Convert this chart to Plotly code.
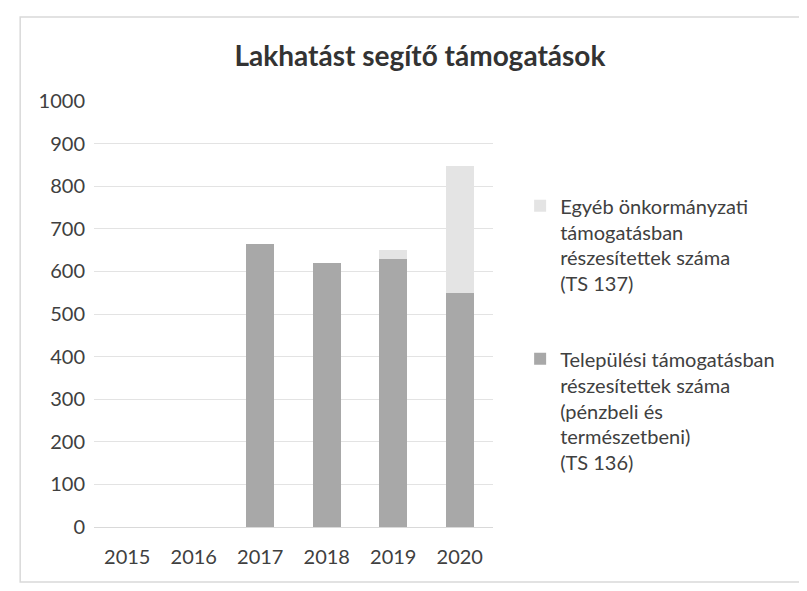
"""Lakhatást segítő támogatások - stacked bar chart."""

import plotly.graph_objects as go

# Data
YEARS = ["2015", "2016", "2017", "2018", "2019", "2020"]
TS136 = [None, None, 665, 620, 628, 550]   # Települési támogatás
TS137 = [None, None, None, None, 22, 298]  # Egyéb önkormányzati támogatás
Y_TICKS = [0, 100, 200, 300, 400, 500, 600, 700, 800, 900, 1000]

NAME_136 = "Települési támogatásban<br>részesítettek száma<br>(pénzbeli és<br>természetbeni)<br>(TS 136)"
NAME_137 = "Egyéb önkormányzati<br>támogatásban<br>részesítettek száma<br>(TS 137)"

DARK = "#a8a8a8"
LIGHT = "#e4e4e4"
TEXT = "#404040"
FONT = "Lato, 'Open Sans', sans-serif"

fig = go.Figure()
fig.add_trace(go.Bar(
    x=YEARS, y=TS136, name=NAME_136,
    marker=dict(color=DARK, line=dict(width=0)),
    legendgroup="a", legendrank=2,
))
fig.add_trace(go.Bar(
    x=YEARS, y=TS137, name=NAME_137,
    marker=dict(color=LIGHT, line=dict(width=0)),
    legendgroup="b", legendrank=1,
))

# page body has an 8px margin, so the figure is 8px smaller than the window
fig.update_layout(
    width=799, height=583,
    barmode="stack", bargap=0.58,
    font=dict(family=FONT, size=20, color=TEXT),
    paper_bgcolor="white", plot_bgcolor="white",
    margin=dict(l=86, r=314, t=93, b=64, autoexpand=False),
    title=dict(
        text="<b>Lakhatást segítő támogatások</b>",
        font=dict(size=28, color="#333333"),
        x=0.5156, xanchor="center", y=0.918, yanchor="middle",
    ),
    legend=dict(
        x=1.068, xanchor="left", y=0.8, yanchor="top",
        traceorder="grouped", tracegroupgap=46,
        valign="top", font=dict(size=20, color=TEXT),
        bgcolor="rgba(0,0,0,0)",
    ),
    showlegend=True,
    shapes=[dict(
        type="rect", xref="paper", yref="paper",
        x0=-0.185, x1=1.777, y0=-0.129, y1=1.197,
        line=dict(color="#d9d9d9", width=1.5), layer="below",
    )],
)

fig.update_xaxes(
    showline=True, linecolor="#d9d9d9", linewidth=1,
    ticks="", ticklabelstandoff=12, tickfont=dict(size=20, color=TEXT),
)
fig.update_yaxes(
    range=[0, 1000], tickvals=Y_TICKS,
    gridcolor="#e3e3e3", gridwidth=1, zeroline=False,
    ticklabelstandoff=8, tickfont=dict(size=20, color=TEXT),
)

fig.write_html("out.html")
